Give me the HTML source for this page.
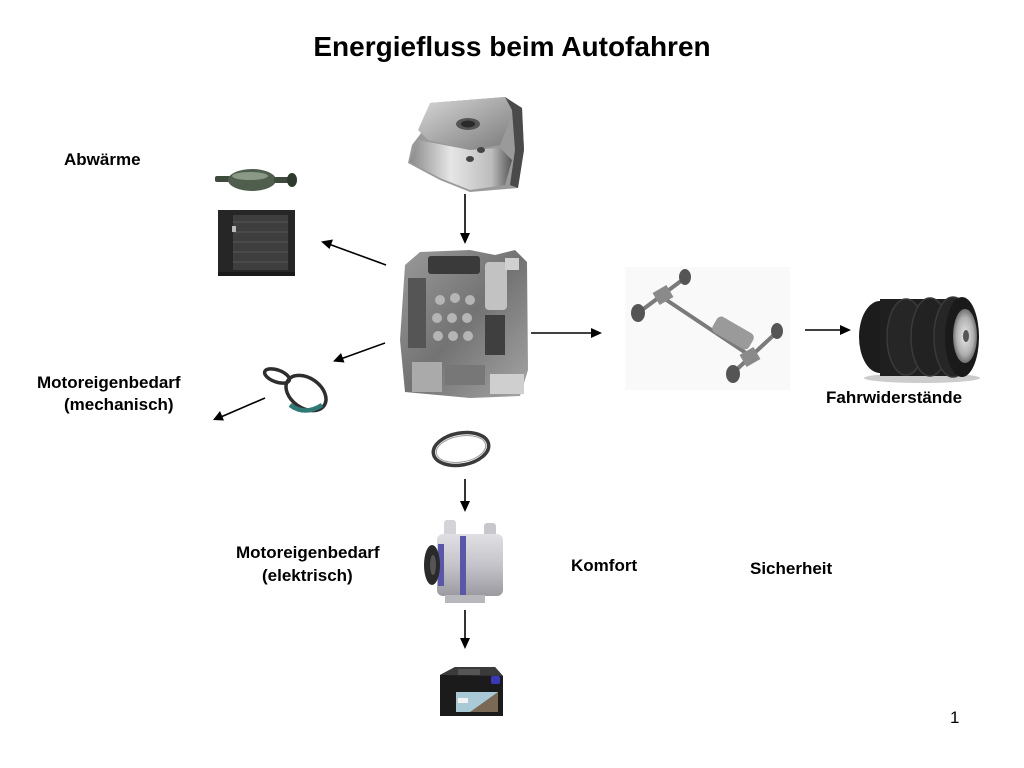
<!DOCTYPE html>
<html>
<head>
<meta charset="utf-8">
<style>
  html,body{margin:0;padding:0;background:#fff;}
  body{width:1024px;height:768px;position:relative;overflow:hidden;font-family:"Liberation Sans",Arial,sans-serif;}
  .t{position:absolute;font-weight:bold;font-size:17px;line-height:20px;color:#000;white-space:nowrap;}
  #title{position:absolute;left:0;width:1024px;top:31px;text-align:center;font-weight:bold;font-size:28px;line-height:32px;color:#000;}
  svg{position:absolute;left:0;top:0;}
</style>
</head>
<body>
<svg width="1024" height="768" viewBox="0 0 1024 768" xmlns="http://www.w3.org/2000/svg">
  <defs>
    <linearGradient id="tankTop" x1="0" y1="0" x2="1" y2="1">
      <stop offset="0" stop-color="#d8d8d8"/>
      <stop offset="0.5" stop-color="#a8a8a8"/>
      <stop offset="1" stop-color="#7a7a7a"/>
    </linearGradient>
    <linearGradient id="tankFront" x1="0" y1="0" x2="1" y2="0">
      <stop offset="0" stop-color="#8a8a8a"/>
      <stop offset="0.4" stop-color="#e6e6e6"/>
      <stop offset="0.8" stop-color="#bdbdbd"/>
      <stop offset="1" stop-color="#555"/>
    </linearGradient>
    <linearGradient id="eng" x1="0" y1="0" x2="1" y2="1">
      <stop offset="0" stop-color="#9a9a9a"/>
      <stop offset="0.5" stop-color="#737373"/>
      <stop offset="1" stop-color="#a5a5a5"/>
    </linearGradient>
    <linearGradient id="alt" x1="0" y1="0" x2="0" y2="1">
      <stop offset="0" stop-color="#e0e0e4"/>
      <stop offset="0.5" stop-color="#c4c4ca"/>
      <stop offset="1" stop-color="#9a9aa0"/>
    </linearGradient>
    <radialGradient id="rim" cx="0.5" cy="0.5" r="0.5">
      <stop offset="0" stop-color="#e8e8e8"/>
      <stop offset="0.7" stop-color="#b0b0b0"/>
      <stop offset="1" stop-color="#707070"/>
    </radialGradient>
  </defs>

  <!-- Fuel tank -->
  <g>
    <polygon points="430,103 505,97 522,108 524,150 518,188 470,192 440,180 408,163 412,145 425,128" fill="#9a9a9a"/>
    <polygon points="430,103 505,97 515,108 500,145 470,150 428,140 418,130" fill="url(#tankTop)"/>
    <polygon points="418,140 470,150 500,148 512,160 505,185 470,190 440,178 410,162" fill="url(#tankFront)"/>
    <ellipse cx="468" cy="124" rx="12" ry="6" fill="#555"/>
    <ellipse cx="468" cy="124" rx="7" ry="3.5" fill="#2a2a2a"/>
    <ellipse cx="481" cy="150" rx="4" ry="3" fill="#444"/>
    <ellipse cx="470" cy="159" rx="4" ry="3" fill="#444"/>
    <polygon points="505,97 522,108 524,150 518,188 510,185 515,150 512,110" fill="#4a4a4a"/>
  </g>

  <!-- Muffler -->
  <g>
    <rect x="215" y="176" width="16" height="6" rx="2" fill="#3d4a3c"/>
    <ellipse cx="252" cy="180" rx="24" ry="11" fill="#4f5e4d"/>
    <ellipse cx="250" cy="176" rx="18" ry="4" fill="#8a9886"/>
    <rect x="274" y="177" width="16" height="6" rx="2" fill="#3d4a3c"/>
    <ellipse cx="292" cy="180" rx="5" ry="7" fill="#2f3a2e"/>
  </g>

  <!-- Radiator -->
  <g>
    <rect x="218" y="210" width="77" height="66" fill="#262626"/>
    <rect x="233" y="215" width="55" height="55" fill="#3e3e3e"/>
    <g stroke="#555" stroke-width="1">
      <line x1="233" y1="222" x2="288" y2="222"/>
      <line x1="233" y1="232" x2="288" y2="232"/>
      <line x1="233" y1="242" x2="288" y2="242"/>
      <line x1="233" y1="252" x2="288" y2="252"/>
      <line x1="233" y1="262" x2="288" y2="262"/>
    </g>
    <rect x="232" y="226" width="4" height="6" fill="#bbb"/>
    <rect x="218" y="272" width="77" height="4" fill="#1a1a1a"/>
  </g>

  <!-- Engine -->
  <g>
    <polygon points="405,265 420,252 470,250 495,255 515,250 527,262 528,370 520,396 470,398 405,392 400,340" fill="url(#eng)"/>
    <rect x="428" y="256" width="52" height="18" rx="3" fill="#3a3a3a"/>
    <rect x="485" y="262" width="22" height="48" rx="4" fill="#c2c2c2"/>
    <rect x="505" y="258" width="14" height="12" fill="#d0d0d0"/>
    <rect x="408" y="278" width="18" height="70" fill="#555"/>
    <g fill="#b5b5b5">
      <circle cx="440" cy="300" r="5"/><circle cx="455" cy="298" r="5"/><circle cx="470" cy="300" r="5"/>
      <circle cx="437" cy="318" r="5"/><circle cx="452" cy="318" r="5"/><circle cx="467" cy="318" r="5"/>
      <circle cx="438" cy="336" r="5"/><circle cx="453" cy="336" r="5"/><circle cx="468" cy="336" r="5"/>
    </g>
    <rect x="485" y="315" width="20" height="40" fill="#3f3f3f"/>
    <rect x="412" y="362" width="30" height="30" fill="#aaa"/>
    <rect x="490" y="374" width="34" height="20" fill="#cfcfcf"/>
    <rect x="445" y="365" width="40" height="20" fill="#777"/>
  </g>

  <!-- Figure-8 belt -->
  <g fill="none" stroke-width="3.5">
    <ellipse cx="277" cy="376" rx="13" ry="6" transform="rotate(20 277 376)" stroke="#2e2e2e"/>
    <ellipse cx="306" cy="393" rx="22" ry="15" transform="rotate(35 306 393)" stroke="#2e2e2e"/>
    <path d="M 290 405 Q 305 416 322 405" stroke="#2f7a77" stroke-width="4.5"/>
  </g>

  <!-- Chassis -->
  <g>
    <rect x="625" y="267" width="165" height="123" fill="#f9f9f9"/>
    <g stroke="#7a7a7a" stroke-width="4" stroke-linecap="round">
      <line x1="638" y1="313" x2="685" y2="278"/>
      <line x1="662" y1="297" x2="752" y2="357"/>
      <line x1="733" y1="373" x2="777" y2="332"/>
    </g>
    <rect x="655" y="288" width="16" height="14" fill="#8a8a8a" transform="rotate(-30 663 295)"/>
    <rect x="712" y="324" width="42" height="18" rx="5" fill="#9a9a9a" transform="rotate(30 733 333)"/>
    <rect x="742" y="350" width="16" height="14" fill="#8a8a8a" transform="rotate(-30 750 357)"/>
    <g fill="#555">
      <ellipse cx="638" cy="313" rx="7" ry="9"/>
      <ellipse cx="685" cy="277" rx="6" ry="8"/>
      <ellipse cx="733" cy="374" rx="7" ry="9"/>
      <ellipse cx="777" cy="331" rx="6" ry="8"/>
    </g>
  </g>

  <!-- Tires -->
  <g>
    <ellipse cx="922" cy="378" rx="58" ry="5" fill="#ccc"/>
    <ellipse cx="880" cy="337" rx="21" ry="36" fill="#1c1c1c"/>
    <rect x="880" y="299" width="82" height="77" fill="#1f1f1f"/>
    <ellipse cx="906" cy="337" rx="19" ry="38" fill="#262626" stroke="#3a3a3a" stroke-width="1.5"/>
    <ellipse cx="930" cy="337" rx="19" ry="39" fill="#222" stroke="#3a3a3a" stroke-width="1.5"/>
    <ellipse cx="953" cy="337" rx="19" ry="40" fill="#262626" stroke="#3a3a3a" stroke-width="1.5"/>
    <ellipse cx="962" cy="337" rx="17" ry="40" fill="#1a1a1a"/>
    <ellipse cx="965" cy="336" rx="12" ry="27" fill="url(#rim)"/>
    <ellipse cx="966" cy="336" rx="3" ry="6" fill="#555"/>
  </g>

  <!-- Belt 2 -->
  <ellipse cx="461" cy="449" rx="28" ry="16" transform="rotate(-10 461 449)" fill="none" stroke="#3a3a3a" stroke-width="3.5"/>
  <ellipse cx="461" cy="449" rx="25" ry="13" transform="rotate(-10 461 449)" fill="none" stroke="#9a9a9a" stroke-width="1"/>

  <!-- Alternator -->
  <g>
    <rect x="444" y="520" width="12" height="18" rx="3" fill="#d4d4d8"/>
    <rect x="484" y="523" width="12" height="16" rx="3" fill="#c8c8cc"/>
    <rect x="437" y="534" width="66" height="62" rx="6" fill="url(#alt)"/>
    <rect x="460" y="536" width="6" height="62" fill="#5a56a8"/>
    <rect x="438" y="544" width="6" height="42" fill="#5a56a8"/>
    <ellipse cx="432" cy="565" rx="8" ry="20" fill="#2a2a2a"/>
    <ellipse cx="433" cy="565" rx="3" ry="10" fill="#555"/>
    <rect x="445" y="595" width="40" height="8" fill="#b8b8bc"/>
  </g>

  <!-- Battery -->
  <g>
    <polygon points="440,675 455,667 495,667 503,676 503,716 440,716" fill="#1b1b1b"/>
    <polygon points="440,675 455,667 495,667 503,676" fill="#3a3a3a"/>
    <rect x="458" y="669" width="22" height="6" fill="#555"/>
    <rect x="491" y="676" width="9" height="8" rx="2" fill="#3a3ab8"/>
    <rect x="456" y="692" width="42" height="20" fill="#a9c9d6"/>
    <polygon points="470,712 498,692 498,712" fill="#7a6a55"/>
    <rect x="458" y="698" width="10" height="5" fill="#f2f2f2"/>
  </g>

  <!-- Arrows -->
  <g stroke="#000" stroke-width="1.6" fill="none">
    <line x1="465" y1="194" x2="465" y2="234"/>
    <line x1="386" y1="265" x2="330" y2="244.5"/>
    <line x1="385" y1="343" x2="342" y2="358.5"/>
    <line x1="265" y1="398" x2="222" y2="416.5"/>
    <line x1="531" y1="333" x2="592" y2="333"/>
    <line x1="805" y1="330" x2="841" y2="330"/>
    <line x1="465" y1="479" x2="465" y2="502"/>
    <line x1="465" y1="610" x2="465" y2="639"/>
  </g>
  <g fill="#000">
    <polygon points="465,244 460,233 470,233"/>
    <polygon points="321,241.5 333,239.5 329.5,249"/>
    <polygon points="333,361.5 341,353 344.5,362.5"/>
    <polygon points="213,420 220,411 224,420.5"/>
    <polygon points="602,333 591,328 591,338"/>
    <polygon points="851,330 840,325 840,335"/>
    <polygon points="465,512 460,501 470,501"/>
    <polygon points="465,649 460,638 470,638"/>
  </g>
</svg>

<div id="title">Energiefluss beim Autofahren</div>
<div class="t" style="left:64px;top:150px;">Abwärme</div>
<div class="t" style="left:37px;top:373px;">Motoreigenbedarf</div>
<div class="t" style="left:64px;top:395px;">(mechanisch)</div>
<div class="t" style="left:826px;top:388px;">Fahrwiderstände</div>
<div class="t" style="left:236px;top:543px;">Motoreigenbedarf</div>
<div class="t" style="left:262px;top:566px;">(elektrisch)</div>
<div class="t" style="left:571px;top:556px;">Komfort</div>
<div class="t" style="left:750px;top:559px;">Sicherheit</div>
<div style="position:absolute;left:950px;top:708px;font-size:17px;line-height:20px;color:#000;">1</div>
</body>
</html>
